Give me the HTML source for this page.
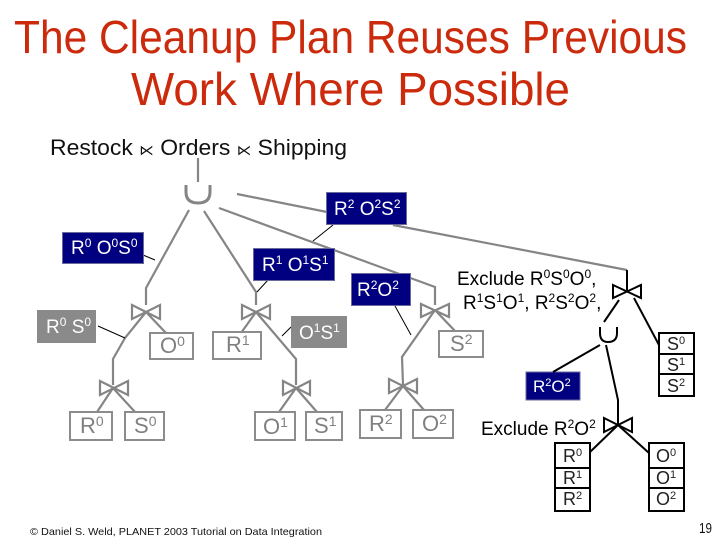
<!DOCTYPE html>
<html><head><meta charset="utf-8"><style>
html,body{margin:0;padding:0;background:#fff}
svg{display:block}
text{font-family:"Liberation Sans",sans-serif}
.g{fill:none;stroke:#858585;stroke-width:2.200}
.k{fill:none;stroke:#000;stroke-width:2}
.t{fill:none;stroke:#000;stroke-width:1}
.gb{fill:#fff;stroke:#8c8c8c;stroke-width:2}
.kb{fill:#fff;stroke:#000;stroke-width:2}
.nv{fill:#000080;stroke:#6a6a9a;stroke-width:1}
.gy{fill:#8a8a8a}
.w{fill:#fff;font-size:19px}
.gt{fill:#808080;font-size:22px}
.bt{fill:#222;font-size:18px}
.l{fill:#000;font-size:19px}
</style></head><body>
<svg width="720" height="540" viewBox="0 0 720 540" xmlns="http://www.w3.org/2000/svg">
<text x="14" y="53" font-size="46" fill="#cc2a0c" textLength="673" lengthAdjust="spacingAndGlyphs">The Cleanup Plan Reuses Previous</text>
<text x="131" y="105" font-size="46" fill="#cc2a0c" textLength="439" lengthAdjust="spacingAndGlyphs">Work Where Possible</text>
<text x="50" y="155" font-size="22" fill="#111" textLength="297" lengthAdjust="spacingAndGlyphs">Restock <tspan font-size="14">⋉</tspan> Orders <tspan font-size="14">⋉</tspan> Shipping</text>

<!-- grey connectors -->
<path class="g" d="M198 158V182"/>
<path class="g" style="stroke-width:3" d="M186 185V192Q186 203 198 203Q210 203 210 192V185"/>
<path class="g" d="M237 194L327 212"/>
<path class="g" d="M393 225L627 270"/>
<path class="g" d="M219 208L435 287V305"/>
<path class="g" d="M189 210L146 288V305"/>
<path class="g" d="M204 211L256 292V305"/>
<path class="g" d="M146 312L125 338L113 359V385M146 312L166 333"/>
<path class="g" d="M256 312L241 333M256 312L296 359V385"/>
<path class="g" d="M113 388L97 412M113 388L135 412"/>
<path class="g" d="M296 388L279 412M296 388L317 412"/>
<path class="g" d="M435 310L402 357L403 385M435 310L455 331"/>
<path class="g" d="M403 386L385 410M403 386L424 410"/>
<path class="g" d="M132 305L160 319V305L132 319Z"/>
<path class="g" d="M242 305L270 319V305L242 319Z"/>
<path class="g" d="M100 381L128 395V381L100 395Z"/>
<path class="g" d="M283 381L310 395V381L283 395Z"/>
<path class="g" d="M421 304L449 317V304L421 317Z"/>
<path class="g" d="M389 379L417 393V379L389 393Z"/>

<!-- thin leaders -->
<path class="t" d="M333 225L313 241M143 255L155 260M268 280L257 292M395 306L411 335M98 326L125 338M291 327L282 336"/>

<!-- grey leaves -->
<rect class="gb" x="150" y="333" width="43" height="26"/>
<rect class="gb" x="213" y="332" width="48" height="27"/>
<rect class="gb" x="439" y="331" width="44" height="26"/>
<rect class="gb" x="70" y="412" width="42" height="28"/>
<rect class="gb" x="125" y="412" width="39" height="28"/>
<rect class="gb" x="255" y="412" width="40" height="28"/>
<rect class="gb" x="306" y="412" width="36" height="28"/>
<rect class="gb" x="360" y="410" width="41" height="28"/>
<rect class="gb" x="413" y="410" width="40" height="28"/>
<text class="gt" x="160" y="353">O<tspan font-size="14" dy="-7">0</tspan></text>
<text class="gt" x="226" y="352">R<tspan font-size="14" dy="-7">1</tspan></text>
<text class="gt" x="450" y="351">S<tspan font-size="14" dy="-7">2</tspan></text>
<text class="gt" x="80" y="433">R<tspan font-size="14" dy="-7">0</tspan></text>
<text class="gt" x="134" y="433">S<tspan font-size="14" dy="-7">0</tspan></text>
<text class="gt" x="263" y="434">O<tspan font-size="14" dy="-7">1</tspan></text>
<text class="gt" x="314" y="433">S<tspan font-size="14" dy="-7">1</tspan></text>
<text class="gt" x="369" y="431">R<tspan font-size="14" dy="-7">2</tspan></text>
<text class="gt" x="422" y="431">O<tspan font-size="14" dy="-7">2</tspan></text>

<!-- navy boxes -->
<rect class="nv" x="326.500" y="192.500" width="80" height="32"/>
<rect class="nv" x="62.500" y="232.500" width="81" height="31"/>
<rect class="nv" x="253.500" y="248.500" width="81" height="32"/>
<rect class="nv" x="351.500" y="273.500" width="59" height="32"/>
<rect class="nv" x="526" y="372" width="54" height="28"/>
<text class="w" x="334" y="215">R<tspan font-size="12" dy="-7">2</tspan><tspan dy="7"> O</tspan><tspan font-size="12" dy="-7">2</tspan><tspan dy="7">S</tspan><tspan font-size="12" dy="-7">2</tspan></text>
<text class="w" x="71" y="254">R<tspan font-size="12" dy="-7">0</tspan><tspan dy="7"> O</tspan><tspan font-size="12" dy="-7">0</tspan><tspan dy="7">S</tspan><tspan font-size="12" dy="-7">0</tspan></text>
<text class="w" x="262" y="271">R<tspan font-size="12" dy="-7">1</tspan><tspan dy="7"> O</tspan><tspan font-size="12" dy="-7">1</tspan><tspan dy="7">S</tspan><tspan font-size="12" dy="-7">1</tspan></text>
<text class="w" x="357" y="296">R<tspan font-size="12" dy="-7">2</tspan><tspan dy="7">O</tspan><tspan font-size="12" dy="-7">2</tspan></text>
<text class="w" x="533" y="392" style="font-size:17px">R<tspan font-size="11" dy="-6">2</tspan><tspan dy="6">O</tspan><tspan font-size="11" dy="-6">2</tspan></text>

<!-- grey filled boxes -->
<rect class="gy" x="37" y="310" width="59" height="33"/>
<rect class="gy" x="291" y="316" width="56" height="32"/>
<text class="w" x="46" y="333">R<tspan font-size="12" dy="-7">0</tspan><tspan dy="7"> S</tspan><tspan font-size="12" dy="-7">0</tspan></text>
<text class="w" x="299" y="339">O<tspan font-size="12" dy="-7">1</tspan><tspan dy="7">S</tspan><tspan font-size="12" dy="-7">1</tspan></text>

<!-- black connectors -->
<path class="k" d="M627 270V291M619 300L604 322M634 298L659 345"/>
<path class="k" d="M613 285L641 298V285L613 298Z"/>
<path class="k" d="M600 327V333Q600 342 608 342Q617 342 617 333V327"/>
<path class="k" d="M600 345L553 372M606 345L618 400V425M618 425L590 452M618 425L649 453"/>
<path class="k" d="M604 418L632 432V418L604 432Z"/>

<!-- tables -->
<rect class="kb" x="659" y="333" width="35" height="63"/>
<path class="k" d="M659 354H694M659 374H694"/>
<rect class="kb" x="555" y="443" width="35" height="68"/>
<path class="k" d="M555 468H590M555 488H590"/>
<rect class="kb" x="649" y="443" width="35" height="68"/>
<path class="k" d="M649 468H684M649 488H684"/>
<text class="bt" x="667" y="350">S<tspan font-size="11" dy="-6">0</tspan></text>
<text class="bt" x="667" y="371">S<tspan font-size="11" dy="-6">1</tspan></text>
<text class="bt" x="667" y="392">S<tspan font-size="11" dy="-6">2</tspan></text>
<text class="bt" x="563" y="462">R<tspan font-size="11" dy="-6">0</tspan></text>
<text class="bt" x="563" y="484">R<tspan font-size="11" dy="-6">1</tspan></text>
<text class="bt" x="563" y="505">R<tspan font-size="11" dy="-6">2</tspan></text>
<text class="bt" x="656" y="462">O<tspan font-size="11" dy="-6">0</tspan></text>
<text class="bt" x="656" y="484">O<tspan font-size="11" dy="-6">1</tspan></text>
<text class="bt" x="656" y="505">O<tspan font-size="11" dy="-6">2</tspan></text>

<!-- labels -->
<text class="l" x="457" y="285">Exclude R<tspan font-size="12" dy="-7">0</tspan><tspan dy="7">S</tspan><tspan font-size="12" dy="-7">0</tspan><tspan dy="7">O</tspan><tspan font-size="12" dy="-7">0</tspan><tspan dy="7">,</tspan></text>
<text class="l" x="463" y="309">R<tspan font-size="12" dy="-7">1</tspan><tspan dy="7">S</tspan><tspan font-size="12" dy="-7">1</tspan><tspan dy="7">O</tspan><tspan font-size="12" dy="-7">1</tspan><tspan dy="7">, R</tspan><tspan font-size="12" dy="-7">2</tspan><tspan dy="7">S</tspan><tspan font-size="12" dy="-7">2</tspan><tspan dy="7">O</tspan><tspan font-size="12" dy="-7">2</tspan><tspan dy="7">,</tspan></text>
<text class="l" x="481" y="435">Exclude R<tspan font-size="12" dy="-7">2</tspan><tspan dy="7">O</tspan><tspan font-size="12" dy="-7">2</tspan></text>

<text x="30" y="535" font-size="10.500" fill="#111" textLength="292" lengthAdjust="spacingAndGlyphs">© Daniel S. Weld,  PLANET 2003  Tutorial on Data Integration</text>
<text x="699" y="533" font-size="15" fill="#111" textLength="13" lengthAdjust="spacingAndGlyphs">19</text>
</svg>
</body></html>
